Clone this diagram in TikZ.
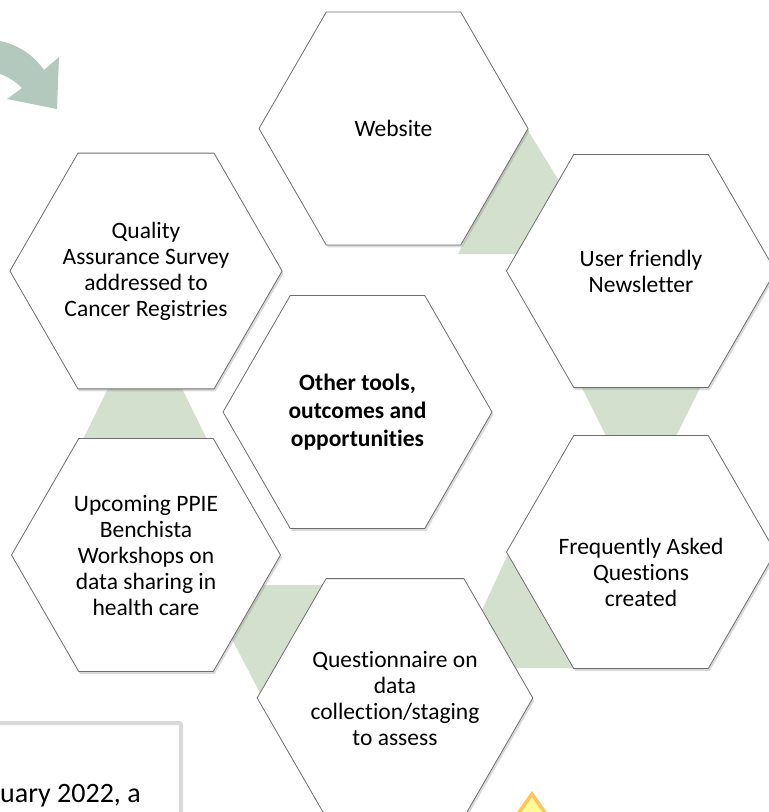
\documentclass[tikz,border=0pt]{standalone}
\usepackage{fontspec}
\setmainfont{Carlito}[Ligatures=NoCommon]
\usetikzlibrary{calc,shapes.geometric,shadows,backgrounds}
\definecolor{sage}{RGB}{212,224,206}
\definecolor{arrowgreen}{RGB}{179,201,189}
\definecolor{hexline}{RGB}{110,110,110}
\definecolor{boxline}{RGB}{217,217,217}
\definecolor{warnline}{RGB}{255,196,90}
\definecolor{warnfill}{RGB}{255,250,150}
\tikzset{
	hexcell/.style={regular polygon, regular polygon sides=6, minimum size=269pt, inner sep=0pt,
		fill=white, draw=hexline, line width=0.8pt, align=center,
		font=\fontsize{23.5}{26}\selectfont,
		drop shadow={opacity=0.3, shadow xshift=1.5pt, shadow yshift=-2.5pt}},
	hextext/.style={align=center, inner sep=0pt, font=\fontsize{23.5}{26}\selectfont},
	link/.style={fill=sage}
}

\begin{document}
\begin{tikzpicture}[x=1pt, y=-1pt]
		%%%%% START %%%%%
		\useasboundingbox (0,0) rectangle (769,812);
		\clip (0,0) rectangle (769,812);
		
		% curved arrow top left
		\fill[arrowgreen] (0,41) .. controls (20,45) and (35,57) .. (44,70) -- (59,57) -- (57,109) -- (7,99) -- (22,88) .. controls (15,81) and (8,77) .. (0,74) -- cycle;
		
		% hexagons
		\node[hexcell] (website) at (393.5,128.5) {Website};
		\node[hexcell] (newsletter) at (641,271) {User friendly\\Newsletter};
		\node[hexcell] (faq) at (641,552) {};
		\node[hextext] (faqtext) at ($(faq)+(0,20)$) {Frequently Asked\\Questions\\created};
		\node[hexcell] (questionnaire) at (395,698) {Questionnaire on\\data\\collection/staging\\to assess};
		\node[hexcell] (workshops) at (146,555) {Upcoming PPIE\\Benchista\\Workshops on\\data sharing in\\health care};
		\node[hexcell] (survey) at (146,271) {Quality\\Assurance Survey\\addressed to\\Cancer Registries};
		\node[hexcell, font=\fontsize{23.5}{28}\selectfont\bfseries] (centre) at (357.5,412) {Other tools,\\outcomes and\\opportunities};
		
		% green links behind the hexagons
		\begin{scope}[on background layer]
			\fill[link] ($(website)+(130.5,-4.5)$) -- ($(website)+(210.5,125.5)$) -- ($(website)+(64.5,125.5)$) -- cycle;
			\fill[link] ($(newsletter)+(-83,69)$) -- ($(newsletter)+(83,69)$) -- ($(newsletter)+(0,235)$) -- cycle;
			\fill[link] ($(faq)+(-132,0)$) -- ($(faq)+(-51,116)$) -- ($(faq)+(-186,116)$) -- cycle;
			\fill[link] ($(workshops)+(58,30)$) -- ($(workshops)+(189,30)$) -- ($(workshops)+(116,142)$) -- cycle;
			\fill[link] ($(survey)+(-1,42)$) -- ($(survey)+(81,209)$) -- ($(survey)+(-83,209)$) -- cycle;
		\end{scope}
		
		% text box bottom left
		\draw[boxline, line width=4pt, rounded corners=2pt, fill=white] (-10,723) rectangle (181,840);
		\node[anchor=base west, inner sep=0pt, font=\fontsize{28}{32}\selectfont] (note) at (0,802) {uary 2022, a};
		
		% warning sign bottom right
		\draw[warnline, fill=warnfill, line width=3.5pt] (532,794) -- (600,890) -- (464,890) -- cycle;
		
		%%%%% END %%%%%
\end{tikzpicture}
\end{document}
